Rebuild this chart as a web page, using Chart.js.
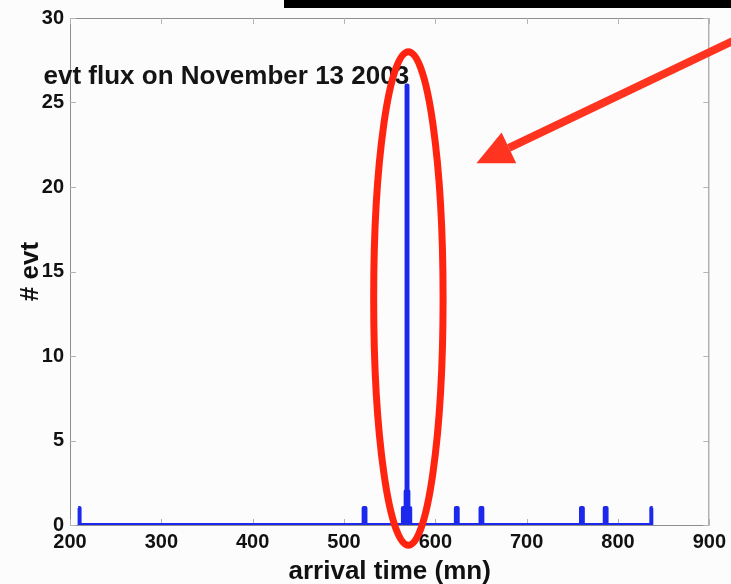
<!DOCTYPE html>
<html>
<head>
<meta charset="utf-8">
<script src="https://cdn.jsdelivr.net/npm/chart.js@4.4.1/dist/chart.umd.min.js"></script>
<style>
  html, body { margin: 0; padding: 0; background: #fcfcfc; }
  #wrap { width: 731px; height: 584px; position: relative; }
</style>
</head>
<body>
<div id="wrap"><canvas id="fluxChart"></canvas></div>
<script>
// events per minute, November 13 2003
const arrivalMin = [209, 210, 211, 521, 522, 523, 524, 564, 565, 566, 567, 568, 569, 570, 571, 572, 573,
                    622, 623, 624, 625, 649, 650, 651, 652, 759, 760, 761, 762, 785, 786, 787, 788, 836, 837, 838];
const evtCount   = [1, 1, 0, 0, 1, 1, 0, 0, 1, 1, 1, 2, 26, 2, 1, 1, 0,
                    0, 1, 1, 0, 0, 1, 1, 0, 0, 1, 1, 0, 0, 1, 1, 0, 0, 1, 1];

const xTicks = [200, 300, 400, 500, 600, 700, 800, 900];
const yTicks = [0, 5, 10, 15, 20, 25, 30];

const plotTitle = 'evt flux on November 13 2003';
const xLabel = 'arrival time (mn)';
const yLabel = '# evt';

const fontFam = '"Liberation Sans", Arial, Helvetica, sans-serif';
const blue = 'rgb(28, 40, 236)';

const points = arrivalMin.map((t, i) => ({ x: t, y: evtCount[i] }));

// box, inner ticks, in-axes title, and the highlight marks
const overlay = {
  id: 'overlay',
  beforeDatasetsDraw(chart) {
    const { ctx, chartArea: a, scales: { x, y } } = chart;
    ctx.save();
    ctx.strokeStyle = '#8e8e8e';
    ctx.lineWidth = 1;
    ctx.strokeRect(a.left + 0.5, a.top + 0.5, a.right - a.left - 1, a.bottom - a.top);
    ctx.strokeStyle = '#b4b4b4';
    ctx.beginPath();
    xTicks.forEach(v => {
      const px = Math.round(x.getPixelForValue(v)) + 0.5;
      ctx.moveTo(px, a.top); ctx.lineTo(px, a.top + 6);
      ctx.moveTo(px, a.bottom); ctx.lineTo(px, a.bottom - 6);
    });
    yTicks.forEach(v => {
      const py = Math.round(y.getPixelForValue(v)) + 0.5;
      ctx.moveTo(a.left, py); ctx.lineTo(a.left + 6, py);
      ctx.moveTo(a.right, py); ctx.lineTo(a.right - 6, py);
    });
    ctx.stroke();

    ctx.font = 'bold 26px ' + fontFam;
    ctx.fillStyle = '#141414';
    ctx.textBaseline = 'middle';
    ctx.textAlign = 'left';
    ctx.fillText(plotTitle, x.getPixelForValue(171), y.getPixelForValue(26.5));
    ctx.restore();
  },
  afterDraw(chart) {
    const { ctx, scales: { x, y } } = chart;
    ctx.save();

    // black strip along the top edge
    ctx.fillStyle = '#000';
    ctx.fillRect(284, 0, chart.width - 284, 8);

    // ellipse around the main peak
    const cx = x.getPixelForValue(570.5);
    const cy = y.getPixelForValue(13.4);
    const rx = (x.getPixelForValue(608.5) - x.getPixelForValue(532.5)) / 2;
    const ry = (y.getPixelForValue(-1.2) - y.getPixelForValue(28.0)) / 2;
    ctx.strokeStyle = '#ff2410';
    ctx.lineWidth = 7;
    ctx.beginPath();
    ctx.ellipse(cx, cy, rx, ry, 0, 0, Math.PI * 2);
    ctx.stroke();

    // arrow pointing at it
    const tx = x.getPixelForValue(645), ty = y.getPixelForValue(21.4);
    const sx = x.getPixelForValue(932), sy = y.getPixelForValue(28.8);
    const len = Math.hypot(sx - tx, sy - ty);
    const ux = (sx - tx) / len, uy = (sy - ty) / len;
    const headLen = 36, headHalf = 17;
    const bx = tx + ux * headLen, by = ty + uy * headLen;
    ctx.strokeStyle = '#ff3420';
    ctx.fillStyle = '#ff3420';
    ctx.lineWidth = 8;
    ctx.beginPath();
    ctx.moveTo(sx, sy);
    ctx.lineTo(bx, by);
    ctx.stroke();
    ctx.beginPath();
    ctx.moveTo(tx, ty);
    ctx.lineTo(bx - uy * headHalf, by + ux * headHalf);
    ctx.lineTo(bx + uy * headHalf, by - ux * headHalf);
    ctx.closePath();
    ctx.fill();
    ctx.restore();
  }
};

new Chart(document.getElementById('fluxChart'), {
  type: 'line',
  data: {
    datasets: [{
      label: 'evt flux',
      data: points,
      borderColor: blue,
      backgroundColor: blue,
      borderWidth: 4,
      borderJoinStyle: 'round',
      stepped: 'middle',
      pointRadius: 0,
      fill: 'origin'
    }]
  },
  options: {
    responsive: true,
    maintainAspectRatio: false,
    animation: false,
    layout: { padding: { top: 18, right: 19, left: 0, bottom: 0 } },
    plugins: {
      legend: { display: false },
      tooltip: { enabled: false }
    },
    scales: {
      x: {
        type: 'linear',
        min: 200,
        max: 900,
        afterBuildTicks: s => { s.ticks = xTicks.map(v => ({ value: v })); },
        afterFit: s => { s.height = 59; },
        grid: { display: false, drawTicks: false },
        border: { display: false },
        ticks: {
          padding: 5,
          color: '#111',
          font: { family: fontFam, size: 20, weight: 'bold' },
          maxRotation: 0
        },
        title: {
          display: true,
          text: xLabel,
          color: '#111',
          font: { family: fontFam, size: 26, weight: 'bold', lineHeight: 0.9 },
          padding: { top: 0, bottom: 0 }
        }
      },
      y: {
        min: 0,
        max: 30,
        afterBuildTicks: s => { s.ticks = yTicks.map(v => ({ value: v })); },
        afterFit: s => { s.width = 70; },
        grid: { display: false, drawTicks: false },
        border: { display: false },
        ticks: {
          padding: 6,
          color: '#111',
          font: { family: fontFam, size: 20, weight: 'bold' }
        },
        title: {
          display: true,
          text: yLabel,
          color: '#111',
          font: { family: fontFam, size: 26, weight: 'bold', lineHeight: 1.2 },
          padding: { top: 15, bottom: 0 }
        }
      }
    }
  },
  plugins: [overlay]
});
</script>
</body>
</html>
